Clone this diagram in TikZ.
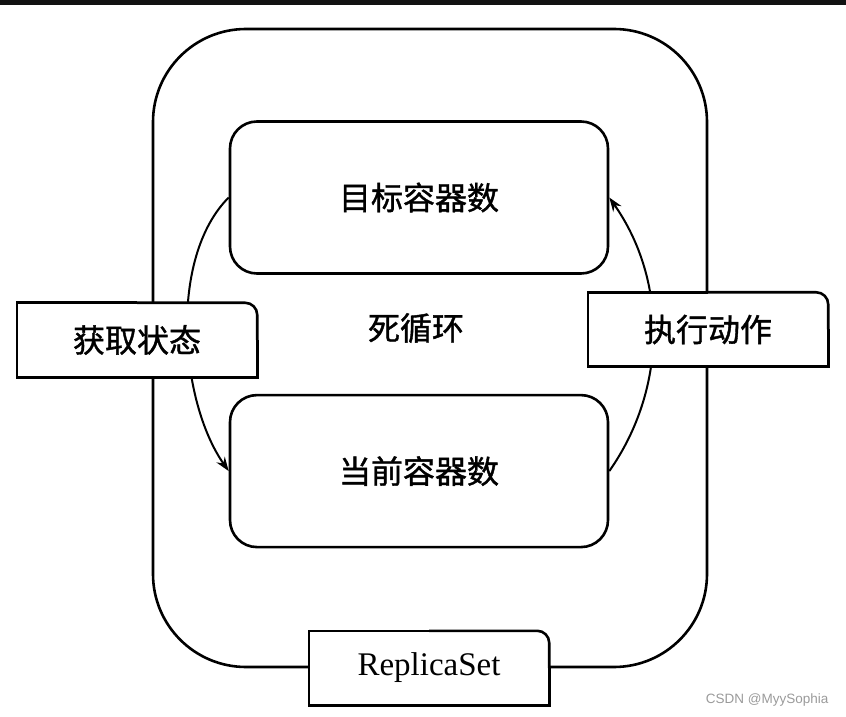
\documentclass[tikz,border=0pt]{standalone}
\usepackage{fontspec}
\setmainfont{Liberation Serif}
\newfontfamily\cjk{Noto Sans CJK SC}[FakeBold=1.2]
\newfontfamily\wmfont{Liberation Sans}
\usetikzlibrary{arrows.meta,positioning}
\definecolor{markgray}{HTML}{9A9A9A}

\begin{document}
\begin{tikzpicture}[x=1pt,y=1pt,
  frame/.style={draw,line width=2.6pt,rounded corners=93pt,minimum width=554pt,minimum height=638pt},
  box/.style={draw,line width=2.6pt,rounded corners=27pt,minimum width=378pt,minimum height=152pt,font=\cjk\fontsize{32}{36}\selectfont},
  tag/.style={fill=white,minimum width=240pt,minimum height=74pt,font=\cjk\fontsize{32}{36}\selectfont},
  arr/.style={-{Stealth[length=14pt,width=10pt]},line width=2pt},
  lbl/.style={font=\cjk\fontsize{32}{36}\selectfont}]
  \useasboundingbox (0,0) rectangle (846,716);
  \fill[black!93] (0,711) rectangle (846,716);
  \node[frame] (loop) at (430,368) {};
  \node[box] (want) at (419,518.5) {目标容器数};
  \node[box,below=119pt of want] (have) {当前容器数};
  \node[lbl] (spin) at (416,388) {死循环};
  \draw[arr] (want.west) to[out=225,in=125,looseness=0.8] (have.west);
  \draw[arr] (have.east) to[out=55,in=-55,looseness=0.95] (want.east);
  \node[tag] (get) at (137,376) {获取状态};
  \node[tag] (act) at (708,386.5) {执行动作};
  \node[tag,font=\fontsize{33}{36}\selectfont] (rs) at (429,48) {ReplicaSet};
  \foreach \n in {get,act,rs} {
    \draw[line width=2.6pt,rounded corners=12pt] (\n.north) -- (\n.north east) -- (\n.east);
    \draw[line width=2.6pt] (\n.north) -| (\n.south west) -| (\n.east);
  }
  \node[font=\wmfont\fontsize{13.5}{16}\selectfont,text=markgray,anchor=east] (mark) at (832,16) {CSDN @MyySophia};
\end{tikzpicture}
\end{document}
